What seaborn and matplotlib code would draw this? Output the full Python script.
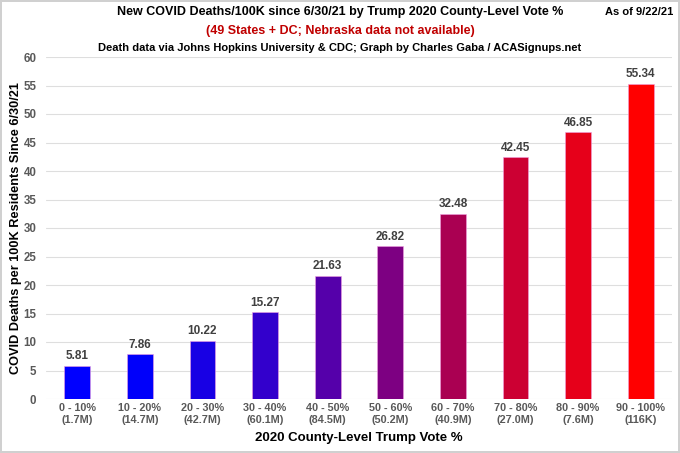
import matplotlib
matplotlib.use("Agg")
import matplotlib.pyplot as plt
import seaborn as sns
import pandas as pd

# data
brackets = ["0 - 10%", "10 - 20%", "20 - 30%", "30 - 40%", "40 - 50%",
            "50 - 60%", "60 - 70%", "70 - 80%", "80 - 90%", "90 - 100%"]
populations = ["(1.7M)", "(14.7M)", "(42.7M)", "(60.1M)", "(84.5M)",
               "(50.2M)", "(40.9M)", "(27.0M)", "(7.6M)", "(116K)"]
deaths_per_100k = [5.81, 7.86, 10.22, 15.27, 21.63, 26.82, 32.48, 42.45, 46.85, 55.34]
bar_colors = ["#0000FF", "#0000FA", "#1800E4", "#3300CC", "#5500AA",
              "#7D0082", "#AA0052", "#CC0033", "#E6001A", "#FF0000"]

df = pd.DataFrame({"bracket": brackets, "deaths": deaths_per_100k})

sns.set_theme(style="white")
plt.rcParams['font.family'] = ['Liberation Sans', 'DejaVu Sans']

fig = plt.figure(figsize=(6.8, 4.53), dpi=100)
ax = fig.add_axes([46 / 680, 1 - 399 / 453, 626 / 680, 342 / 453])

sns.barplot(data=df, x="bracket", y="deaths", hue="bracket", palette=bar_colors,
            legend=False, width=0.41, saturation=1, ax=ax, zorder=3,
            edgecolor="#f0a0e0", linewidth=0.4)

for bar, v in zip(ax.patches, deaths_per_100k):
    ax.text(bar.get_x() + bar.get_width() / 2, v + 0.6, f"{v:.2f}",
            ha="center", va="bottom", fontsize=8.5, fontweight="bold", color="#404040")

ax.set_ylim(0, 60)
ax.set_xlim(-0.5, 9.5)
ax.set_yticks(range(0, 61, 5))
ax.yaxis.grid(True, color="#dedede", linewidth=0.8, zorder=0)
for s in ax.spines.values():
    s.set_visible(False)

ax.set_xticks(range(len(brackets)))
ax.set_xticklabels([f"{b}\n{p}" for b, p in zip(brackets, populations)],
                   fontsize=7.8, fontweight="bold", color="#595959", linespacing=1.25)
ax.tick_params(axis="y", labelsize=8.3, labelcolor="#595959", length=0, pad=7)
ax.tick_params(axis="x", length=0, pad=3)
for lbl in ax.get_yticklabels():
    lbl.set_fontweight("bold")

ax.set_xlabel("2020 County-Level Trump Vote %", fontsize=9.5, fontweight="bold",
              color="black", labelpad=5)
ax.set_ylabel("COVID Deaths per 100K Residents Since 6/30/21", fontsize=9.2,
              fontweight="bold", color="black", labelpad=1)

fig.text(340 / 680, 1 - 12 / 453, "New COVID Deaths/100K since 6/30/21 by Trump 2020 County-Level Vote %",
         ha="center", va="center", fontsize=9, fontweight="bold", color="black")
fig.text(340 / 680, 1 - 31 / 453, "(49 States + DC; Nebraska data not available)",
         ha="center", va="center", fontsize=9, fontweight="bold", color="#C00000")
fig.text(340 / 680, 1 - 48 / 453, "Death data via Johns Hopkins University & CDC; Graph by Charles Gaba / ACASignups.net",
         ha="center", va="center", fontsize=8, fontweight="bold", color="black")
fig.text(673 / 680, 1 - 12 / 453, "As of 9/22/21", ha="right", va="center",
         fontsize=8, fontweight="bold", color="black")

fig.patch.set_edgecolor("#d0d0d0")
fig.patch.set_linewidth(1.5)

fig.savefig("out.png", dpi=100, edgecolor=fig.get_edgecolor())
